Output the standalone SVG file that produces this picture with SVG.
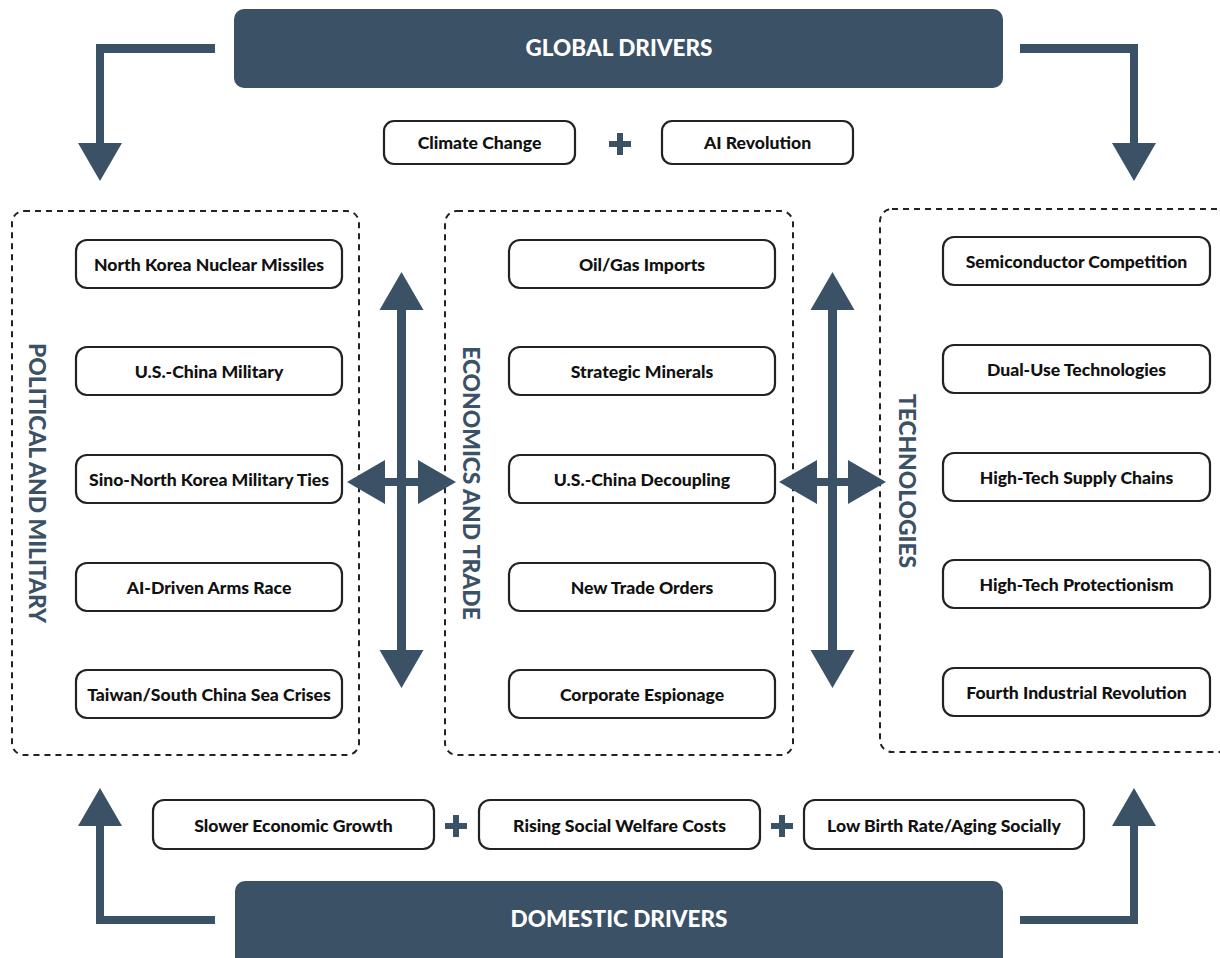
<svg xmlns="http://www.w3.org/2000/svg" width="1220" height="958" viewBox="0 0 1220 958">
  <style>
    .bar { fill: #3b5166; }
    .bar-text { fill: #ffffff; font-family: Lato, "Liberation Sans", sans-serif; font-weight: 900; font-size: 22.5px; text-anchor: middle; dominant-baseline: central; }
    .node rect { fill: #ffffff; stroke: #222222; stroke-width: 2.2; }
    .node text { fill: #111111; font-family: Lato, "Liberation Sans", sans-serif; font-weight: 900; font-size: 17.6px; text-anchor: middle; dominant-baseline: central; }
    .group-box { fill: none; stroke: #222222; stroke-width: 2; stroke-dasharray: 6 5; }
    .group-label { fill: #3b5166; font-family: Lato, "Liberation Sans", sans-serif; font-weight: 900; font-size: 22.8px; text-anchor: middle; dominant-baseline: central; }
    .arrow { fill: #3b5166; }
  </style>

  <!-- Driver banners -->
  <g id="global-drivers">
    <rect class="bar" x="234" y="9" width="769" height="79" rx="10"/>
    <text class="bar-text" x="619" y="47">GLOBAL DRIVERS</text>
  </g>
  <g id="domestic-drivers">
    <rect class="bar" x="235" y="881" width="768" height="90" rx="10"/>
    <text class="bar-text" x="619" y="918">DOMESTIC DRIVERS</text>
  </g>

  <!-- Global driver items -->
  <g id="climate-change" class="node">
    <rect x="384" y="121" width="191" height="43" rx="10"/>
    <text x="479.5" y="142.5">Climate Change</text>
  </g>
  <g id="ai-revolution" class="node">
    <rect x="662" y="121" width="191" height="43" rx="10"/>
    <text x="757.5" y="142.5">AI Revolution</text>
  </g>

  <!-- Domestic driver items -->
  <g id="slower-growth" class="node">
    <rect x="153" y="800" width="281" height="49" rx="11"/>
    <text x="293.5" y="825">Slower Economic Growth</text>
  </g>
  <g id="welfare-costs" class="node">
    <rect x="479" y="800" width="281" height="49" rx="11"/>
    <text x="619.5" y="825">Rising Social Welfare Costs</text>
  </g>
  <g id="birth-rate" class="node">
    <rect x="804" y="800" width="280" height="49" rx="11"/>
    <text x="944" y="825">Low Birth Rate/Aging Socially</text>
  </g>

  <!-- Plus signs -->
  <g id="plus-signs" class="arrow">
    <path d="M617 133h6v8h8v6h-8v8h-6v-8h-8v-6h8z"/>
    <path d="M453 815h6v8h8v6h-8v8h-6v-8h-8v-6h8z"/>
    <path d="M779 815h6v8h8v6h-8v8h-6v-8h-8v-6h8z"/>
  </g>

  <!-- Political and military -->
  <g id="political-military">
    <rect class="group-box" x="12" y="211" width="347" height="544" rx="12"/>
    <text class="group-label" transform="translate(38 483) rotate(90)">POLITICAL AND MILITARY</text>
  </g>
  <g id="pm-1" class="node"><rect x="76" y="240" width="266" height="48" rx="11"/><text x="209" y="264">North Korea Nuclear Missiles</text></g>
  <g id="pm-2" class="node"><rect x="76" y="347" width="266" height="48" rx="11"/><text x="209" y="371">U.S.-China Military</text></g>
  <g id="pm-3" class="node"><rect x="76" y="455" width="266" height="48" rx="11"/><text x="209" y="479">Sino-North Korea Military Ties</text></g>
  <g id="pm-4" class="node"><rect x="76" y="563" width="266" height="48" rx="11"/><text x="209" y="587">AI-Driven Arms Race</text></g>
  <g id="pm-5" class="node"><rect x="76" y="670" width="266" height="48" rx="11"/><text x="209" y="694">Taiwan/South China Sea Crises</text></g>

  <!-- Economics and trade -->
  <g id="economics-trade">
    <rect class="group-box" x="445" y="211" width="348" height="544" rx="12"/>
    <text class="group-label" transform="translate(472 483) rotate(90)">ECONOMICS AND TRADE</text>
  </g>
  <g id="et-1" class="node"><rect x="509" y="240" width="266" height="48" rx="11"/><text x="642" y="264">Oil/Gas Imports</text></g>
  <g id="et-2" class="node"><rect x="509" y="347" width="266" height="48" rx="11"/><text x="642" y="371">Strategic Minerals</text></g>
  <g id="et-3" class="node"><rect x="509" y="455" width="266" height="48" rx="11"/><text x="642" y="479">U.S.-China Decoupling</text></g>
  <g id="et-4" class="node"><rect x="509" y="563" width="266" height="48" rx="11"/><text x="642" y="587">New Trade Orders</text></g>
  <g id="et-5" class="node"><rect x="509" y="670" width="266" height="48" rx="11"/><text x="642" y="694">Corporate Espionage</text></g>

  <!-- Technologies -->
  <g id="technologies">
    <rect class="group-box" x="880" y="209" width="352" height="543" rx="12"/>
    <text class="group-label" transform="translate(908 481) rotate(90)">TECHNOLOGIES</text>
  </g>
  <g id="tech-1" class="node"><rect x="943" y="237" width="267" height="48" rx="11"/><text x="1076.5" y="261">Semiconductor Competition</text></g>
  <g id="tech-2" class="node"><rect x="943" y="345" width="267" height="48" rx="11"/><text x="1076.5" y="369">Dual-Use Technologies</text></g>
  <g id="tech-3" class="node"><rect x="943" y="453" width="267" height="48" rx="11"/><text x="1076.5" y="477">High-Tech Supply Chains</text></g>
  <g id="tech-4" class="node"><rect x="943" y="560" width="267" height="48" rx="11"/><text x="1076.5" y="584">High-Tech Protectionism</text></g>
  <g id="tech-5" class="node"><rect x="943" y="668" width="267" height="48" rx="11"/><text x="1076.5" y="692">Fourth Industrial Revolution</text></g>

  <!-- Connectors -->
  <g id="connectors" class="arrow">
    <!-- global drivers into side columns -->
    <path d="M215 44v9h-111v90h18l-22 38l-22-38h18v-99z"/>
    <path d="M1020 44v9h110v90h-18l22 38l22-38h-18v-99z"/>
    <!-- domestic drivers up into side columns -->
    <path d="M215 916v8h-119v-98h-18l22-38l22 38h-18v90z"/>
    <path d="M1020 916v8h118v-98h18l-22-38l-22 38h18v90z"/>
    <!-- vertical double arrows between columns -->
    <path d="M401.5 272l22 38h-17.5v340h17.5l-22 38l-22-38h17.5v-340h-17.5z"/>
    <path d="M832.5 272l22 38h-17.5v340h17.5l-22 38l-22-38h17.5v-340h-17.5z"/>
    <!-- horizontal double arrows between columns -->
    <path d="M347 482l38-22v18h33v-18l38 22l-38 22v-18h-33v18z"/>
    <path d="M779 482l38-22v18h31v-18l38 22l-38 22v-18h-31v18z"/>
  </g>
</svg>
